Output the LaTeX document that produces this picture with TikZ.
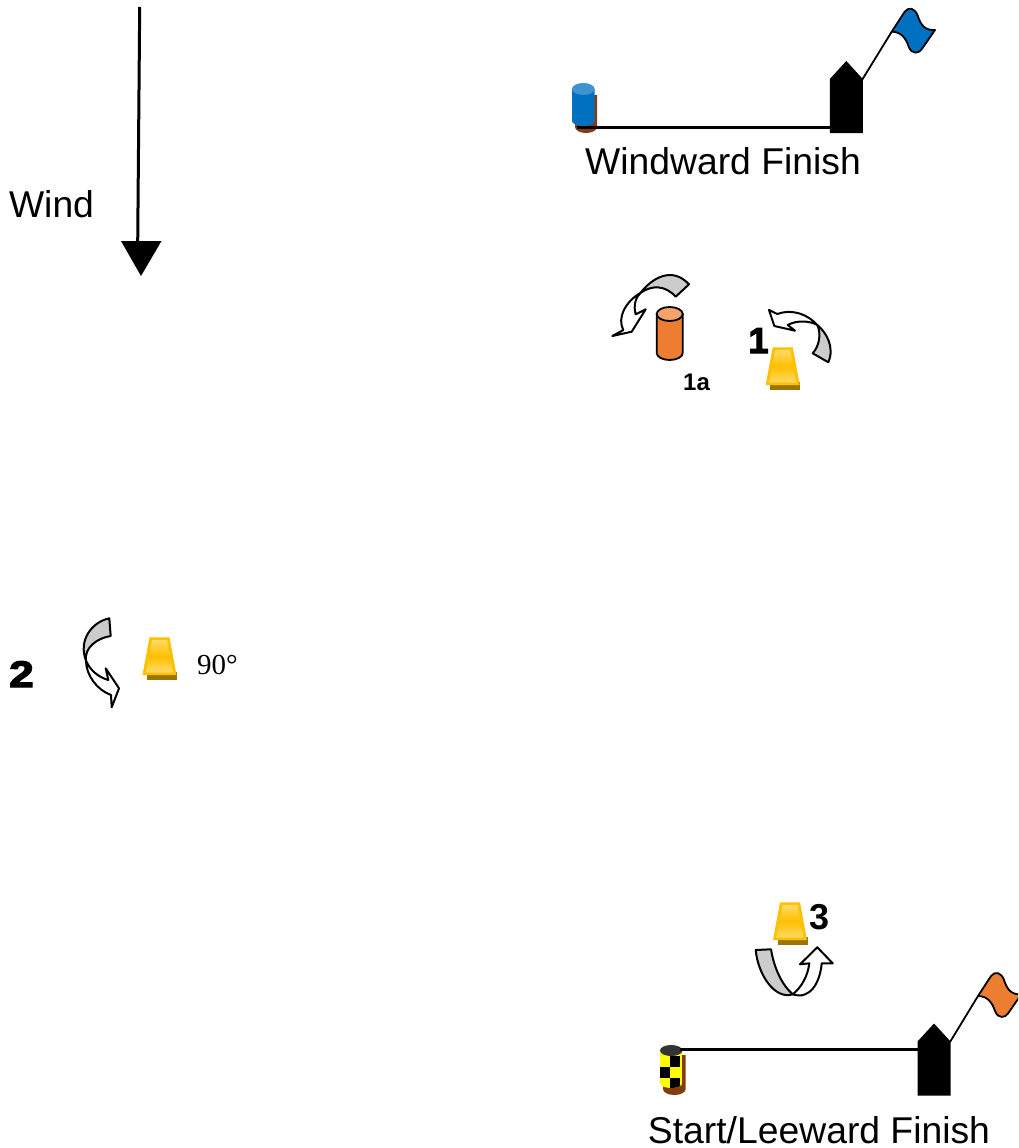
\documentclass[tikz,border=0pt]{standalone}
\usepackage{fontspec}
\setmainfont{Liberation Sans}
\newfontfamily\serifnum{Liberation Serif}
\newfontfamily\heavynum[FakeBold=3.5]{Liberation Sans Bold}
\newfontfamily\heavywide[FakeBold=3.5,FakeStretch=1.2]{Liberation Sans Bold}
\definecolor{blueb}{HTML}{0070C0}
\definecolor{bluetop}{HTML}{3F94CF}
\definecolor{brownb}{HTML}{843C0C}
\definecolor{orangeb}{HTML}{ED7D31}
\definecolor{orangetop}{HTML}{F4A46B}
\definecolor{goldb}{HTML}{FFC000}
\definecolor{goldl}{HTML}{FFD966}
\definecolor{golds}{HTML}{9C7500}
\definecolor{greyb}{HTML}{CCCCCC}
\definecolor{dark}{HTML}{333333}
\definecolor{yellowb}{HTML}{FFFF00}
\tikzset{
  x=1pt,y=-1pt,
  label37/.style={font=\fontsize{37.3}{40}\selectfont,anchor=base,inner sep=0pt,text=black},
  numbold/.style={font=\fontsize{24}{28}\selectfont\bfseries,anchor=base,inner sep=0pt},
  numheavy/.style={font=\fontsize{36}{40}\selectfont\heavynum,anchor=base,inner sep=0pt},
  numwide/.style={font=\fontsize{37}{40}\selectfont\heavywide,anchor=base,inner sep=0pt},
  courseline/.style={draw=black,line width=2.2pt},
  arrowpart/.style={draw=black,line width=2pt,line join=round},
  greypart/.style={arrowpart,fill=greyb},
  whitepart/.style={arrowpart,fill=white},
  rcboat/.pic={
    \fill[black] (-16.5,18) -- (0,0) -- (16.5,18) -- (16.5,72) -- (-16.5,72) -- cycle;
  },
  flagshape/.pic={
    \filldraw[line width=1.8pt,line join=round,draw=black,fill=\pgfkeysvalueof{/tikz/flagcol}]
      (0,0) -- (13,-20) .. controls (17,-25) and (23,-24) .. (26,-16)
      .. controls (29,-7) and (33,-1) .. (43.3,-1.7)
      -- (30,17.5) .. controls (27,22) and (20,23) .. (17,15)
      .. controls (14,6) and (9,0) .. (0,0) -- cycle;
  },
  flagcol/.initial=blueb,
  trapmark/.pic={
    \fill[golds] (-12.5,35) rectangle (17.5,42.7);
    \fill[goldb] (-10,0) -- (10,0) -- (17,37.7) -- (-17,37.7) -- cycle;
    \shade[top color=goldl,bottom color=goldl,middle color=goldb]
      (-7.5,2.5) -- (7.5,2.5) -- (13.6,35.2) -- (-13.6,35.2) -- cycle;
  }
}
\begin{document}
\begin{tikzpicture}
\useasboundingbox (0,0) rectangle (1018,1148);
\clip (0,0) rectangle (1018,1148);
% wind arrow
\coordinate (windstart) at (139.7,7);
\coordinate (windend) at (137.7,243);
\draw[line width=3pt] (windstart) -- (windend);
\fill[black] (121,241) -- (161.5,241) -- (141,276) -- cycle;
\node[label37] (windlabel) at (51.5,217.5) {Wind};
% windward finish
\fill[brownb] (575,95) -- (597,95) -- (597,127) arc[start angle=0,end angle=180,x radius=11,y radius=6] -- cycle;
\fill[blueb] (572,89) -- (572,121) arc[start angle=180,end angle=0,x radius=11.3,y radius=5] -- (594.6,89) -- cycle;
\fill[bluetop] (583.3,89) ellipse[x radius=11.3,y radius=6];
\coordinate (wbuoy) at (577,127.5);
\coordinate (wboatleft) at (830,127.5);
\draw[courseline] (wbuoy) -- (wboatleft);
\pic at (846.3,61) {rcboat};
\coordinate (wshoulder) at (862,80);
\coordinate (wflag) at (891.7,31.7);
\draw[line width=1.8pt] (wshoulder) -- (wflag);
\pic[flagcol=blueb] at (wflag) {flagshape};
\node[label37] (wlabel) at (723,174) {Windward Finish};
% 1a
\filldraw[draw=black,line width=1.8pt,fill=orangeb] (656.7,314) -- (656.7,353) arc[start angle=180,end angle=0,x radius=13,y radius=7] -- (682.7,314) -- cycle;
\filldraw[draw=black,line width=1.8pt,fill=orangetop] (669.7,314) ellipse[x radius=13,y radius=7];
\filldraw[greypart] (640.7,292.7) .. controls (652,278) and (672,266) .. (689,284.3) -- (675.7,296.7) .. controls (665,285) and (652,285) .. (640.7,292.7) -- cycle;
\filldraw[whitepart] (640.7,292.7) .. controls (625,302) and (617,318) .. (623.3,330) -- (612.3,336) -- (631.7,331.7) -- (645.7,309.3) -- (635.7,314.3) .. controls (633,305) and (636,297) .. (640.7,292.7) -- cycle;
\node[numbold] (onea) at (696.5,390) {1a};
% 1
\pic at (782.7,347.3) {trapmark};
\filldraw[whitepart] (817.3,325) .. controls (808.3,315) and (793.3,308.3) .. (777.3,314) -- (769,310) -- (774.3,326) -- (795,330.7) -- (787.7,325) .. controls (796.7,320) and (810,320.7) .. (817.3,325) -- cycle;
\filldraw[greypart] (817.3,325) .. controls (826,332) and (835,347) .. (828.3,362.3) -- (812.7,353.3) .. controls (820,345) and (821,333) .. (817.3,325) -- cycle;
\node[numheavy] (one) at (758.5,353) {1};
% 2
\node[numwide] (two) at (21.5,687) {2};
\filldraw[greypart] (109.3,618.3) .. controls (92,622) and (78,640) .. (86,660.7) .. controls (84,648) and (97,638) .. (110.7,636) -- cycle;
\filldraw[whitepart] (86,660.7) .. controls (86,675) and (97,690) .. (111,695) -- (111.7,707.3) -- (119,688.3) -- (105.7,668.3) -- (108.3,680) .. controls (98,677) and (90,670) .. (86,660.7) -- cycle;
\pic at (159.5,637.3) {trapmark};
\node[font=\fontsize{29}{32}\selectfont\serifnum,anchor=base,inner sep=0pt] (ninety) at (217.5,674) {90°};
% 3
\pic at (790,902.3) {trapmark};
\node[font=\fontsize{36}{40}\selectfont\bfseries,anchor=base,inner sep=0pt] (three) at (819,929) {3};
\filldraw[whitepart] (792.7,994.3) .. controls (810,1000) and (820,983) .. (821.7,963.3) -- (832.7,963.3) -- (817.3,947.3) -- (800,964.3) -- (809.3,963.3) .. controls (808,975) and (802,987) .. (792.7,994.3) -- cycle;
\filldraw[greypart] (755.7,950) .. controls (758,975) and (775,1000) .. (792.7,994.3) .. controls (782,985) and (774,968) .. (771,949.3) -- cycle;
% start / leeward finish
\fill[brownb] (663,1055) -- (685.7,1055) -- (685.7,1089) arc[start angle=0,end angle=180,x radius=11.35,y radius=6] -- cycle;
\begin{scope}
  \path[clip] (660,1050) -- (660,1083) arc[start angle=180,end angle=0,x radius=11.2,y radius=5] -- (682.3,1050) -- cycle;
  \fill[yellowb] (660,1050) rectangle (682.3,1090);
  \fill[black] (669.5,1056) rectangle (679.5,1067);
  \fill[black] (660,1067) rectangle (669.5,1078);
  \fill[black] (669.5,1078) rectangle (679.5,1088);
\end{scope}
\fill[dark] (671.2,1050.5) ellipse[x radius=11.2,y radius=5.5];
\coordinate (lbuoy) at (680,1049.5);
\coordinate (lboatleft) at (918,1049.5);
\draw[courseline] (lbuoy) -- (lboatleft);
\pic at (934,1023.5) {rcboat};
\coordinate (lshoulder) at (950,1042);
\coordinate (lflag) at (978,996);
\draw[line width=1.8pt] (lshoulder) -- (lflag);
\pic[flagcol=orangeb] at (lflag) {flagshape};
\node[label37] (llabel) at (819,1143) {Start/Leeward Finish};
\end{tikzpicture}
\end{document}
